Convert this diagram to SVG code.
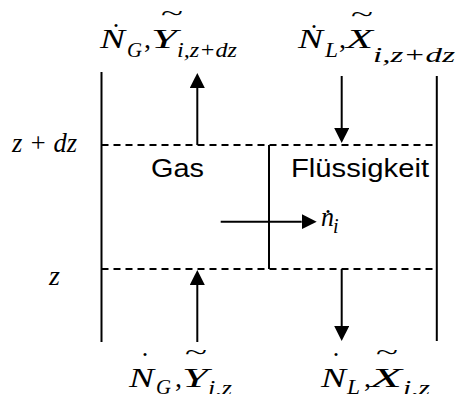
<svg xmlns="http://www.w3.org/2000/svg" width="459" height="394" viewBox="0 0 459 394">
<defs>
<style>
.ln{stroke:#000;stroke-width:2;fill:none}
.dash{stroke:#000;stroke-width:1.8;fill:none;stroke-dasharray:7 5}
.m{font-family:"Liberation Serif","Times New Roman",serif;font-style:italic;font-size:28px;fill:#000}
.u{font-family:"Liberation Serif","Times New Roman",serif;font-style:normal;font-size:28px;fill:#000}
.s{font-family:"Liberation Serif","Times New Roman",serif;font-style:italic;font-size:20px;fill:#000}
.dot{font-family:"Liberation Serif","Times New Roman",serif;font-style:normal;font-size:26px;fill:#000;text-anchor:middle}
.til{font-family:"Liberation Serif","Times New Roman",serif;font-style:normal;font-size:22px;fill:#000;text-anchor:middle}
.t{font-family:"Liberation Sans",Arial,sans-serif;font-size:25px;fill:#000}
</style>
<marker id="ah" viewBox="0 0 15 15" refX="0" refY="7.5" markerWidth="15" markerHeight="15" orient="auto" markerUnits="userSpaceOnUse"><path d="M0,0 L15,7.5 L0,15 z" fill="#000"/></marker>
</defs>
<g id="connectors">
<line class="ln" x1="101.5" y1="72" x2="101.5" y2="342"/>
<line class="ln" x1="436.8" y1="76" x2="436.8" y2="341"/>
<line class="dash" x1="101.5" y1="145" x2="436.8" y2="145"/>
<line class="dash" x1="101.5" y1="269" x2="436.8" y2="269"/>
<line class="ln" x1="269" y1="145" x2="269" y2="269"/>
<line class="ln" x1="197.3" y1="145" x2="197.3" y2="88" marker-end="url(#ah)"/>
<line class="ln" x1="197.3" y1="342" x2="197.3" y2="285" marker-end="url(#ah)"/>
<line class="ln" x1="341.7" y1="76" x2="341.7" y2="128" marker-end="url(#ah)"/>
<line class="ln" x1="341.7" y1="269" x2="341.7" y2="326" marker-end="url(#ah)"/>
<line class="ln" x1="220.7" y1="221.7" x2="301.7" y2="221.7" marker-end="url(#ah)"/>
</g>
<g id="label-top-left">
<text class="m" x="100" y="48" textLength="25" lengthAdjust="spacingAndGlyphs">N</text>
<text class="dot" x="116" y="27">.</text>
<text class="s" x="127" y="57" textLength="15" lengthAdjust="spacingAndGlyphs">G</text>
<text class="u" x="144" y="48">,</text>
<text class="m" x="151" y="48" textLength="26" lengthAdjust="spacingAndGlyphs">Y</text>
<text class="til" x="172" y="20" textLength="22" lengthAdjust="spacingAndGlyphs">~</text>
<text class="s" x="177" y="57" textLength="60" lengthAdjust="spacingAndGlyphs">i,z+dz</text>
</g>
<g id="label-top-right">
<text class="m" x="298" y="48" textLength="25" lengthAdjust="spacingAndGlyphs">N</text>
<text class="dot" x="314" y="28">.</text>
<text class="s" x="325" y="57" textLength="13" lengthAdjust="spacingAndGlyphs">L</text>
<text class="u" x="339" y="48">,</text>
<text class="m" x="346" y="48" textLength="27" lengthAdjust="spacingAndGlyphs">X</text>
<text class="til" x="362" y="21" textLength="22" lengthAdjust="spacingAndGlyphs">~</text>
<text class="s" x="373" y="62" textLength="82" lengthAdjust="spacingAndGlyphs">i,z+dz</text>
</g>
<g id="label-bottom-left">
<text class="m" x="129" y="387" textLength="25" lengthAdjust="spacingAndGlyphs">N</text>
<text class="dot" x="145" y="356">.</text>
<text class="s" x="156" y="394" textLength="15" lengthAdjust="spacingAndGlyphs">G</text>
<text class="u" x="175" y="387">,</text>
<text class="m" x="182" y="387" textLength="26" lengthAdjust="spacingAndGlyphs">Y</text>
<text class="til" x="196" y="359" textLength="22" lengthAdjust="spacingAndGlyphs">~</text>
<text class="s" x="208" y="395" textLength="24" lengthAdjust="spacingAndGlyphs">i,z</text>
</g>
<g id="label-bottom-right">
<text class="m" x="321" y="387" textLength="25" lengthAdjust="spacingAndGlyphs">N</text>
<text class="dot" x="336" y="356">.</text>
<text class="s" x="347" y="394" textLength="13" lengthAdjust="spacingAndGlyphs">L</text>
<text class="u" x="364" y="387">,</text>
<text class="m" x="370" y="387" textLength="32" lengthAdjust="spacingAndGlyphs">X</text>
<text class="til" x="387" y="359" textLength="22" lengthAdjust="spacingAndGlyphs">~</text>
<text class="s" x="403" y="395" textLength="27" lengthAdjust="spacingAndGlyphs">i,z</text>
</g>
<g id="label-z-dz">
<text class="m" x="12" y="152" textLength="65" lengthAdjust="spacingAndGlyphs">z + dz</text>
</g>
<g id="label-z">
<text class="m" x="49" y="285">z</text>
</g>
<g id="node-gas">
<text class="t" x="151" y="177" textLength="53" lengthAdjust="spacingAndGlyphs">Gas</text>
</g>
<g id="node-liquid">
<text class="t" x="291" y="177" textLength="138" lengthAdjust="spacingAndGlyphs">Flüssigkeit</text>
</g>
<g id="label-flux">
<text class="m" x="321" y="226" textLength="13" lengthAdjust="spacingAndGlyphs">n</text>
<text class="dot" x="328" y="213">.</text>
<text class="s" x="333" y="233">i</text>
</g>
</svg>
